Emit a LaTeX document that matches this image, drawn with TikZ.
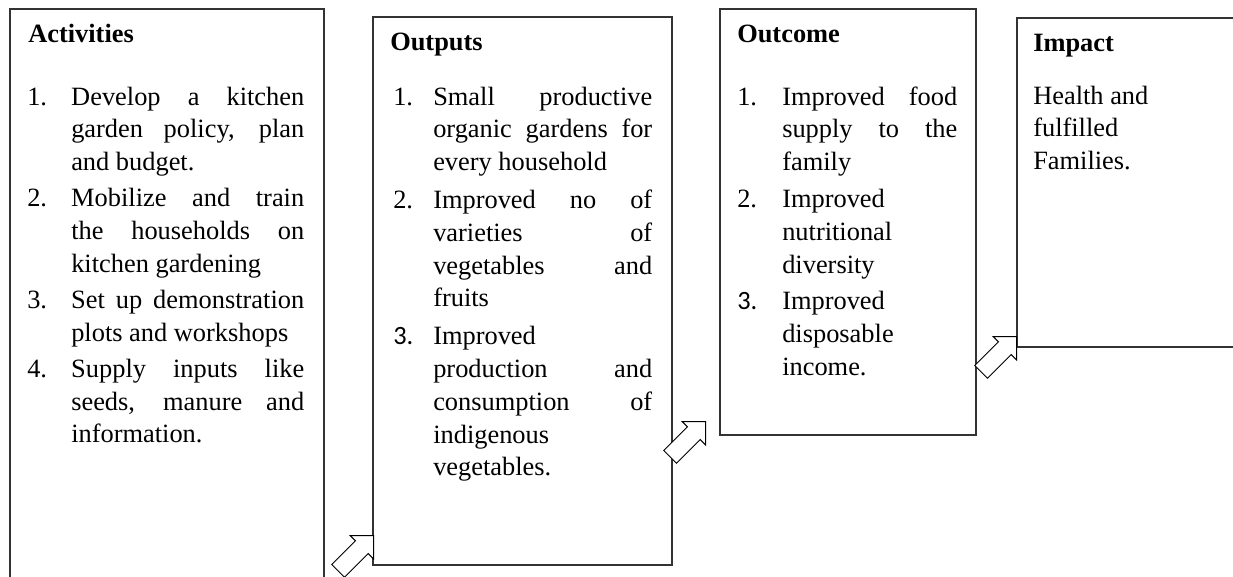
\documentclass[tikz,border=0pt]{standalone}
\usepackage{fontspec}
\setmainfont{Liberation Serif}
\newfontfamily\calibrinum{Carlito}
\usetikzlibrary{shapes.arrows}

% one unit = one pixel of a 96 dpi layout
\newlength\px \setlength\px{0.75pt}
\newlength\numw \newlength\txtw \newlength\gapw

% justified line, numbered line, continuation line
\newcommand\jline[1]{\makebox[\txtw][s]{#1}}
\newcommand\nline[2]{\hbox{\makebox[\numw][l]{#1}#2}}
\newcommand\pline[1]{\hbox{\hskip\numw #1}}
\newcommand\itemgap{\vskip\gapw}
\newcommand\listfont{\fontsize{19.8pt}{24.6pt}\selectfont}

\tikzset{
  x=0.75pt, y=-0.75pt,
  panel/.style={draw=black!80, line width=1.5\px, anchor=north west,
    inner sep=0pt, fill=none},
  title/.style={anchor=base west, inner sep=0pt,
    font=\fontsize{19.8pt}{24pt}\selectfont\bfseries},
  listblock/.style={anchor=base west, inner sep=0pt},
  blockarrow/.style={single arrow, draw=black, fill=white, line width=1\px,
    minimum height=50\px, inner sep=8.5\px, single arrow head extend=7.5\px,
    rotate=45, anchor=tip},
}

\begin{document}
\begin{tikzpicture}
\useasboundingbox (0,0) rectangle (1233,576);
\clip (0,0) rectangle (1233,576);

% the four panels
\node[panel, minimum width=314\px, minimum height=590\px] (activities) at (9,8) {};
\node[panel, minimum width=299\px, minimum height=548\px] (outputs) at (372,16) {};
\node[panel, minimum width=256\px, minimum height=426\px] (outcome) at (719,8) {};
\node[panel, minimum width=240\px, minimum height=329\px] (impact) at (1016,17) {};

% headings
\node[title] (acttitle) at (28,42) {Activities};
\node[title] (outtitle) at (390,50) {Outputs};
\node[title] (occtitle) at (737,42) {Outcome};
\node[title] (imptitle) at (1033,51) {Impact};

% Activities list
\node[listblock] (actlist) at (27,105) {\parbox[t]{300\px}{\listfont
  \setlength\numw{44\px}\setlength\txtw{233\px}\setlength\gapw{3.3\px}%
  \nline{1.}{\jline{Develop a kitchen}}
  \pline{\jline{garden policy, plan}}
  \pline{and budget.}
  \itemgap
  \nline{2.}{\jline{Mobilize and train}}
  \pline{\jline{the households on}}
  \pline{kitchen gardening}
  \itemgap
  \nline{3.}{\jline{Set up demonstration}}
  \pline{plots and workshops}
  \itemgap
  \nline{4.}{\jline{Supply inputs like}}
  \pline{\jline{seeds, manure and}}
  \pline{information.}}};

% Outputs list
\node[listblock] (outlist) at (393,105) {\parbox[t]{300\px}{\listfont
  \setlength\numw{40\px}\setlength\txtw{219\px}\setlength\gapw{5\px}%
  \nline{1.}{\jline{Small productive}}
  \pline{\jline{organic gardens for}}
  \pline{every household}
  \itemgap
  \nline{2.}{\jline{Improved no of}}
  \pline{\jline{varieties of}}
  \pline{\jline{vegetables and}}
  \pline{fruits}
  \itemgap
  \nline{{\calibrinum 3.}}{Improved}
  \pline{\jline{production and}}
  \pline{\jline{consumption of}}
  \pline{indigenous}
  \pline{vegetables.}}};

% Outcome list
\node[listblock] (occlist) at (737,105) {\parbox[t]{300\px}{\listfont
  \setlength\numw{45\px}\setlength\txtw{175\px}\setlength\gapw{4\px}%
  \nline{1.}{\jline{Improved food}}
  \pline{\jline{supply to the}}
  \pline{family}
  \itemgap
  \nline{2.}{Improved}
  \pline{nutritional}
  \pline{diversity}
  \itemgap
  \nline{{\calibrinum 3.}}{Improved}
  \pline{disposable}
  \pline{income.}}};

% Impact text
\node[listblock] (implist) at (1033,104) {\parbox[t]{200\px}{\listfont
  \hbox{Health and}
  \hbox{fulfilled}
  \hbox{Families.}}};

% block arrows leading from one panel to the next
\node[blockarrow] (arr1) at (374,535) {};
\node[blockarrow] (arr2) at (706,421) {};
\node[blockarrow] (arr3) at (1017,336) {};
\end{tikzpicture}
\end{document}
